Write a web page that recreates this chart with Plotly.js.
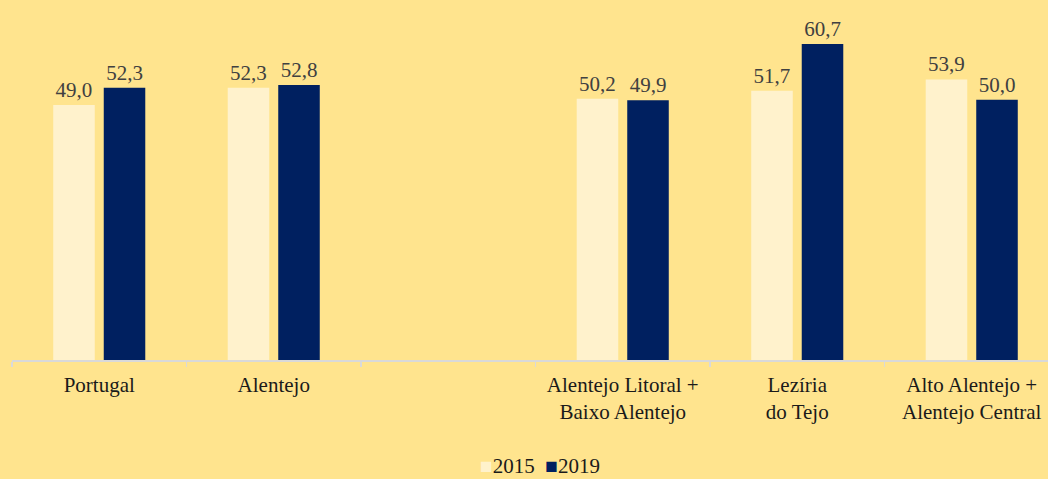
<!DOCTYPE html>
<html>
<head>
<meta charset="utf-8">
<script src="https://cdn.plot.ly/plotly-3.0.1.min.js"></script>
<style>html,body{margin:0;padding:0;background:#FFE48E;}</style>
</head>
<body>
<div id="chart" style="width:1048px;height:479px;"></div>
<script>
const categories = ["Portugal", "Alentejo", " ", "Alentejo Litoral +<br>Baixo Alentejo", "Lezíria<br>do Tejo", "Alto Alentejo +<br>Alentejo Central"];
const series2015 = [49.0, 52.3, null, 50.2, 51.7, 53.9];
const series2019 = [52.3, 52.8, null, 49.9, 60.7, 50.0];
const seriesNames = ["2015", "2019"];
const seriesColors = ["#FFF2CC", "#002060"];

const SERIF = "'Times New Roman', 'Liberation Serif', 'DejaVu Serif', serif";
const labelFont = {family: SERIF, size: 21, color: "#404040"};

const traces = [series2015, series2019].map((vals, i) => ({
  type: "bar",
  name: seriesNames[i],
  x: categories,
  y: vals,
  marker: {color: seriesColors[i]},
  text: vals.map(v => v === null ? "" : v.toFixed(1).replace(".", ",")),
  textposition: "outside",
  cliponaxis: false,
  textfont: labelFont,
  hoverinfo: "none"
}));

const legendText = seriesNames.map((n, i) =>
  '<span style="color:' + seriesColors[i] + '">■</span>' + n).join("  ");

const layout = {
  width: 1048,
  height: 479,
  margin: {l: 12, r: 0, t: 0, b: 119},
  paper_bgcolor: "#FFE48E",
  plot_bgcolor: "#FFE48E",
  font: {family: SERIF},
  barmode: "group",
  bargap: 0.421,
  bargroupgap: 0.178,
  showlegend: false,
  xaxis: {
    type: "category",
    range: [-0.5, 5.437],
    showline: true,
    linecolor: "#D9D9D9",
    linewidth: 1.5,
    ticks: "outside",
    tickson: "boundaries",
    ticklen: 5,
    tickcolor: "#D9D9D9",
    tickwidth: 1.5,
    ticklabelstandoff: 5,
    tickfont: {family: SERIF, size: 21, color: "#1a1a1a"},
    showgrid: false,
    fixedrange: true
  },
  yaxis: {
    range: [0, 69.15],
    visible: false,
    showgrid: false,
    zeroline: false,
    fixedrange: true
  },
  annotations: [{
    xref: "paper", yref: "paper",
    x: (540 - 12) / 1036, y: (360 - 452) / 360,
    xanchor: "center", yanchor: "top",
    showarrow: false,
    text: legendText,
    font: {family: SERIF, size: 21, color: "#1a1a1a"}
  }]
};

Plotly.newPlot("chart", traces, layout, {displayModeBar: false, staticPlot: true});
</script>
</body>
</html>
